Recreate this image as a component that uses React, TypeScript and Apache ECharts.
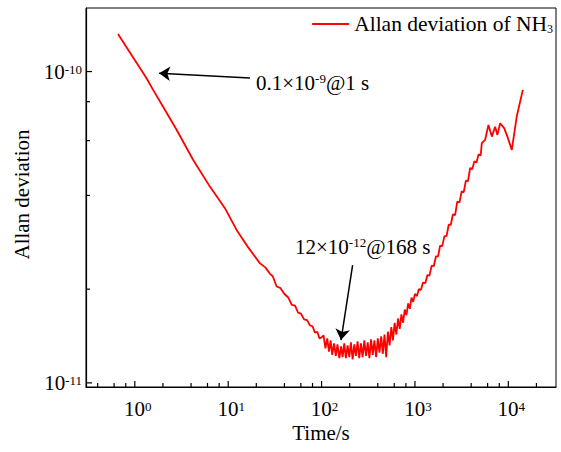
import React, { useEffect, useRef } from "react";
import * as echarts from "echarts";

// Averaging time (s)
const tau = [
  0.66, 1.335, 1.57, 2.0, 2.8, 4.22, 6.37, 9.22, 12.3, 16, 21.9,
  25, 28, 30, 33, 36, 40, 44, 48, 52, 56, 60, 65, 70, 75, 80, 85, 90, 95, 100,
  105, 110, 115, 120, 125, 130, 136, 142, 148, 155, 162, 168, 175, 182, 190, 198,
  206, 215, 224, 233, 243, 253, 264, 275, 287, 299, 312, 325, 339, 353, 368, 384,
  400, 417, 435, 453, 472, 492, 513, 535, 558, 581, 606, 632, 659, 687, 716, 746,
  778, 811, 845, 881, 918, 957,
  1000, 1050, 1100, 1160, 1220, 1290, 1360, 1430, 1510, 1590, 1680, 1770, 1860,
  1960, 2070, 2180, 2300, 2420, 2550, 2690, 2840, 3000, 3160, 3330, 3510, 3700,
  3900, 4110, 4330, 4560, 4800, 5060, 5200, 5640, 6120, 6660, 7220, 7640, 8170,
  9020, 9780, 10900, 12300, 14300,
];
// Allan deviation, in units of 1e-11
const adevE11 = [
  13.2, 9.52, 8.73, 7.72, 6.5, 5.2, 4.27, 3.64, 3.1, 2.75, 2.42,
  2.35, 2.24, 2.2, 2.04, 2.02, 1.93, 1.88, 1.78, 1.77, 1.68, 1.67, 1.6, 1.59, 1.53, 1.52, 1.45, 1.46, 1.39, 1.4,
  1.42, 1.29, 1.39, 1.26, 1.37, 1.23, 1.34, 1.22, 1.33, 1.2, 1.31, 1.21, 1.34, 1.2, 1.32, 1.21,
  1.35, 1.19, 1.33, 1.22, 1.36, 1.2, 1.34, 1.21, 1.37, 1.22, 1.35, 1.2, 1.38, 1.23, 1.37, 1.21,
  1.39, 1.25, 1.41, 1.24, 1.43, 1.21, 1.46, 1.32, 1.51, 1.37, 1.56, 1.43, 1.61, 1.49, 1.66, 1.56,
  1.72, 1.65, 1.8, 1.73, 1.88, 1.82,
  1.93, 1.9, 2.0, 1.99, 2.1, 2.09, 2.22, 2.21, 2.38, 2.37, 2.55, 2.55, 2.76,
  2.75, 2.96, 2.96, 3.22, 3.22, 3.48, 3.46, 3.82, 3.8, 4.12, 4.1, 4.46, 4.45,
  4.9, 4.86, 5.15, 5.1, 5.42, 5.38, 5.89, 6.03, 6.74, 6.18, 6.65, 6.26, 6.82,
  6.58, 6.18, 5.6, 7.17, 8.73,
];

const xMajorTicks = [1, 10, 100, 1000, 10000];
const yMajorTicks = [1e-11, 1e-10];
const xMinorTicks = [0.4, 0.6, 0.8, 2, 4, 6, 8, 20, 40, 60, 80, 200, 400, 600, 800, 2000, 4000, 6000, 8000, 20000];
const yMinorTicks = [2e-11, 4e-11, 6e-11, 8e-11];

// Annotation arrows [fromTau, fromAdev, toTau, toAdev]
const arrow1 = [17.1, 9.54e-11, 1.82, 9.88e-11];
const arrow2 = [215, 2.39e-11, 161.5, 1.372e-11];

const X_MIN = 0.3;
const X_MAX = 32400;
const Y_MIN = 9.7e-12;
const Y_MAX = 1.6e-10;

const FONT = '"Times New Roman", "Liberation Serif", serif';

export default function App() {
  const ref = useRef<HTMLDivElement>(null);
  useEffect(() => {
    if (!ref.current) return;
    const chart = echarts.init(ref.current, null, { renderer: "svg" });
    const data = tau.map((t, i) => [t, adevE11[i] * 1e-11]);
    const annRich = {
      b: { fontSize: 21, fontFamily: FONT, color: "#000", fill: "#000", lineHeight: 22 },
      s: { fontSize: 13, fontFamily: FONT, color: "#000", fill: "#000", verticalAlign: "top", lineHeight: 13 },
    };
    const tickRich = {
      b: { fontSize: 21, fontFamily: FONT, color: "#000", fill: "#000", lineHeight: 18 },
      s: { fontSize: 13, fontFamily: FONT, color: "#000", fill: "#000", verticalAlign: "top", lineHeight: 12 },
    };
    const expLabel = (v: number) => `{b|10}{s|${Math.round(Math.log10(v))}}`;
    const tickLine = (dx: number, dy: number, len: number) => (_p: any, api: any) => {
      const pt = api.coord([api.value(0), api.value(1)]);
      return {
        type: "line",
        shape: { x1: pt[0], y1: pt[1], x2: pt[0] + dx * len, y2: pt[1] + dy * len },
        style: { stroke: "#000", lineWidth: 1.2 },
      };
    };
    const annotations = [
      {
        type: "text",
        x: 256,
        y: 83,
        style: { text: "{b|0.1×10}{s|-9}{b|@1 s}", verticalAlign: "middle", rich: annRich },
      },
      {
        type: "text",
        x: 295,
        y: 247,
        style: { text: "{b|12×10}{s|-12}{b|@168 s}", verticalAlign: "middle", rich: annRich },
      },
    ];
    const option: any = {
      animation: false,
      grid: {
        left: 86,
        right: 5,
        top: 8,
        bottom: 65,
        show: true,
        borderColor: "#000",
        borderWidth: 1,
      },
      legend: {
        data: ["Allan deviation of NH3"],
        right: 3,
        top: 8,
        icon: "rect",
        itemWidth: 37,
        itemHeight: 2,
        itemGap: 5,
        formatter: () => "{a|Allan deviation of NH}{s|3}",
        textStyle: {
          fontSize: 21.5,
          fontFamily: FONT,
          rich: {
            a: { fontSize: 21.5, fontFamily: FONT, color: "#000", lineHeight: 22 },
            s: { fontSize: 12, fontFamily: FONT, color: "#000", verticalAlign: "bottom", lineHeight: 12 },
          },
        },
      },
      xAxis: {
        type: "log",
        logBase: 10,
        min: X_MIN,
        max: X_MAX,
        name: "Time/s",
        nameLocation: "middle",
        nameGap: 37,
        nameMoveOverlap: false,
        nameTextStyle: { fontSize: 21, fontFamily: FONT, color: "#000", lineHeight: 18 },
        axisLine: { show: true, lineStyle: { color: "#000", width: 1.2 } },
        axisTick: { show: false },
        axisLabel: { show: false },
        splitLine: { show: false },
        minorTick: { show: false },
      },
      yAxis: {
        type: "log",
        logBase: 10,
        min: Y_MIN,
        max: Y_MAX,
        name: "Allan deviation",
        nameLocation: "middle",
        nameGap: 54,
        nameMoveOverlap: false,
        nameTextStyle: { fontSize: 21, fontFamily: FONT, color: "#000", padding: [0, 0, 0, 6] },
        axisLine: { show: true, lineStyle: { color: "#000", width: 1.2 } },
        axisTick: { show: false },
        axisLabel: { show: false },
        splitLine: { show: false },
        minorTick: { show: false },
      },
      graphic: annotations,
      series: [
        {
          name: "Allan deviation of NH3",
          type: "line",
          data,
          showSymbol: false,
          symbol: "none",
          color: "#ff0000",
          lineStyle: { color: "#ff0000", width: 1.8 },
          emphasis: { disabled: true },
          markLine: {
            silent: true,
            symbol: ["none", "arrow"],
            symbolSize: 11,
            label: { show: false },
            lineStyle: { color: "#000", width: 1.5, type: "solid" },
            emphasis: { disabled: true },
            data: [
              [{ coord: [arrow1[0], arrow1[1]] }, { coord: [arrow1[2], arrow1[3]] }],
              [{ coord: [arrow2[0], arrow2[1]] }, { coord: [arrow2[2], arrow2[3]] }],
            ],
          },
        },
        {
          name: "xMajor",
          type: "custom",
          silent: true,
          data: xMajorTicks.map((v) => [v, Y_MIN]),
          renderItem: tickLine(0, -1, 6),
        },
        {
          name: "yMajor",
          type: "custom",
          silent: true,
          data: yMajorTicks.map((v) => [X_MIN, v]),
          renderItem: tickLine(1, 0, 6),
        },
        {
          name: "xMinor",
          type: "custom",
          silent: true,
          data: xMinorTicks.map((v) => [v, Y_MIN]),
          renderItem: tickLine(0, -1, 4),
        },
        {
          name: "yMinor",
          type: "custom",
          silent: true,
          data: yMinorTicks.map((v) => [X_MIN, v]),
          renderItem: tickLine(1, 0, 4),
        },
      ],
    };
    chart.setOption(option);

    // Tick labels placed at positions given by the chart's own scales
    const tickLabels: any[] = [];
    xMajorTicks.forEach((v) => {
      const p = chart.convertToPixel({ gridIndex: 0 }, [v, Y_MIN]) as number[];
      tickLabels.push({
        type: "text",
        x: p[0] + 3,
        y: p[1] + 22,
        style: { text: expLabel(v), rich: tickRich, align: "center", verticalAlign: "middle" },
      });
    });
    yMajorTicks.forEach((v) => {
      const p = chart.convertToPixel({ gridIndex: 0 }, [X_MIN, v]) as number[];
      tickLabels.push({
        type: "text",
        x: p[0] - 4,
        y: p[1],
        style: { text: expLabel(v), rich: tickRich, align: "right", verticalAlign: "middle" },
      });
    });
    chart.setOption({ graphic: [...annotations, ...tickLabels] });
    return () => chart.dispose();
  }, []);
  return (
    <div
      ref={ref}
      style={{ position: "absolute", left: 0, top: 0, width: 561, height: 452, background: "#fff" }}
    />
  );
}
